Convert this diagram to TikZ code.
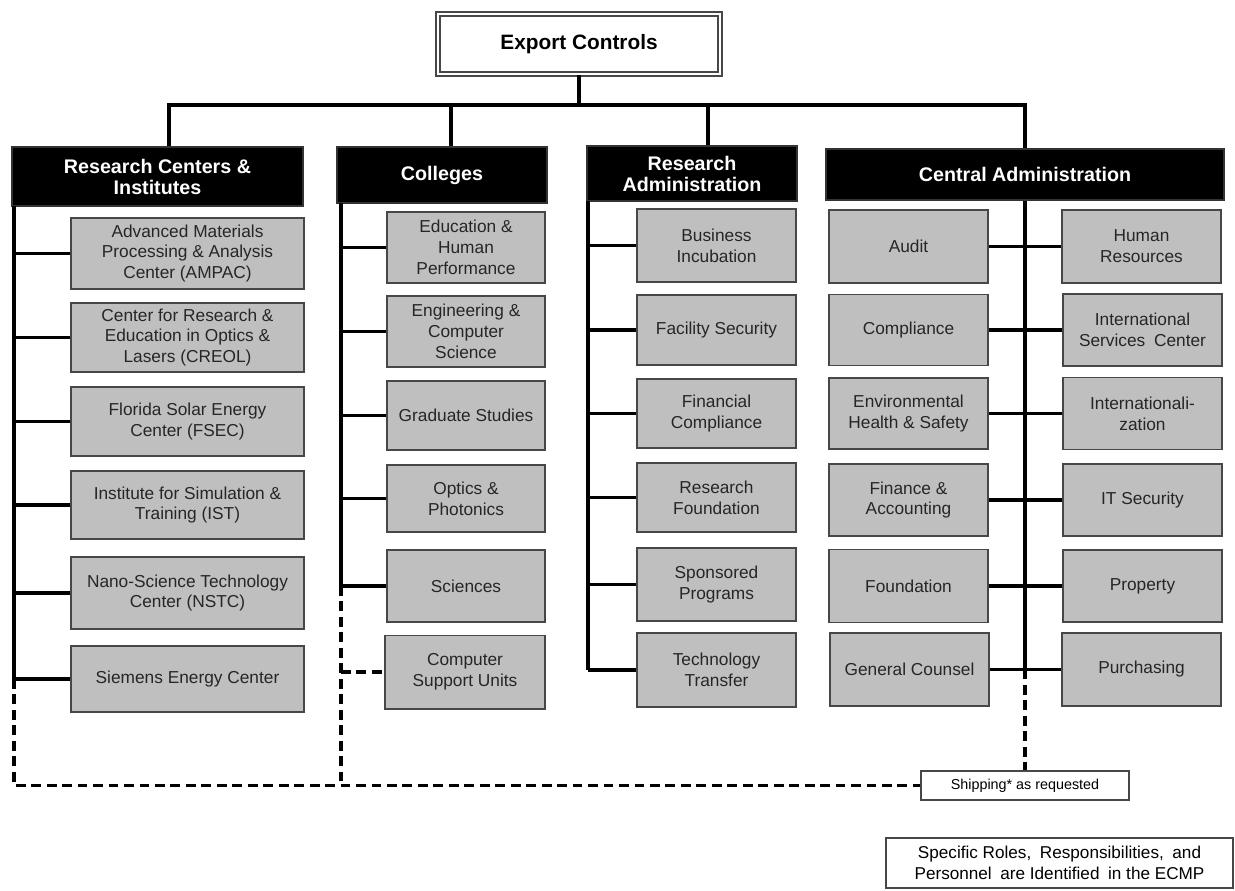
\documentclass[tikz,border=0pt]{standalone}
\usepackage{fontspec}
\setmainfont{Liberation Sans}
\usetikzlibrary{calc}
\definecolor{boxgray}{rgb}{0.75,0.75,0.75}
\definecolor{edgegray}{rgb}{0.28,0.28,0.28}
\tikzset{
  unitbox/.style 2 args={minimum width=#1*0.025cm, minimum height=#2*0.025cm, inner sep=0pt, align=center},
  graybox/.style={draw=edgegray, fill=boxgray, line width=1.4pt, text=black!85, font=\fontsize{12.3}{14.9}\selectfont},
  headbox/.style={draw=black!80, fill=black, text=white, line width=1pt, font=\bfseries\fontsize{14}{14.9}\selectfont},
  link/.style={line width=2.6pt, line join=miter},
  dlink/.style={line width=2.6pt, dash pattern=on 7pt off 4pt},
}

\begin{document}
\begin{tikzpicture}[x=0.025cm, y=-0.025cm]
    \useasboundingbox (0, 0) rectangle (1235, 890);

    \node[draw=edgegray, double, double distance=2pt, line width=1.2pt, unitbox={282}{60},
          font=\bfseries\fontsize{14.8}{16}\selectfont] (ec) at (579, 44) {Export Controls};

    \node[headbox, unitbox={291}{59}] (rci) at (157.5, 176.5) {Research Centers \&\\Institutes};
    \node[headbox, unitbox={210}{56}] (col) at (442, 175) {Colleges};
    \node[headbox, unitbox={210}{55}] (ra)  at (692, 173.5) {Research\\Administration};
    \node[headbox, unitbox={398}{51}] (ca)  at (1025, 174.5) {Central Administration};

    % research centers
    \node[graybox, unitbox={233}{71}] (ampac)   at (187.5, 253.5) {Advanced Materials\\Processing \& Analysis\\Center (AMPAC)};
    \node[graybox, unitbox={233}{69}] (creol)   at (187.5, 337.5) {Center for Research \&\\Education in Optics \&\\Lasers (CREOL)};
    \node[graybox, unitbox={233}{69}] (fsec)    at (187.5, 421.5) {Florida Solar Energy\\Center (FSEC)};
    \node[graybox, unitbox={233}{68}] (ist)     at (187.5, 505) {Institute for Simulation \&\\Training (IST)};
    \node[graybox, unitbox={233}{72}] (nstc)    at (187.5, 593) {Nano-Science Technology\\Center (NSTC)};
    \node[graybox, unitbox={233}{66}] (siemens) at (187.5, 679) {Siemens Energy Center};

    % colleges
    \node[graybox, unitbox={158}{71}] (edu)  at (466, 247.5) {Education \&\\Human\\Performance};
    \node[graybox, unitbox={158}{71}] (eng)  at (466, 331.5) {Engineering \&\\Computer\\Science};
    \node[graybox, unitbox={158}{69}] (grad) at (466, 415.5) {Graduate Studies};
    \node[graybox, unitbox={158}{67}] (opt)  at (466, 498.5) {Optics \&\\Photonics};
    \node[graybox, unitbox={158}{72}] (sci)  at (466, 586) {Sciences};
    \node[graybox, unitbox={160}{73}] (csu)  at (465, 672) {Computer\\Support Units};

    % research administration
    \node[graybox, unitbox={159}{73}] (busi)     at (716.5, 245.5) {Business\\Incubation};
    \node[graybox, unitbox={159}{70}] (facsec)   at (716.5, 330) {Facility Security};
    \node[graybox, unitbox={159}{69}] (fincomp)  at (716.5, 413.5) {Financial\\Compliance};
    \node[graybox, unitbox={159}{69}] (resfound) at (716.5, 497.5) {Research\\Foundation};
    \node[graybox, unitbox={159}{73}] (spons)    at (716.5, 584.5) {Sponsored\\Programs};
    \node[graybox, unitbox={159}{74}] (techtr)   at (716.5, 670) {Technology\\Transfer};

    % central administration
    \node[graybox, unitbox={159}{73}] (audit)  at (908.5, 246.5) {Audit};
    \node[graybox, unitbox={159}{71}] (compl)  at (908.5, 330) {Compliance};
    \node[graybox, unitbox={159}{71}] (ehs)    at (908.5, 413.5) {Environmental\\Health \& Safety};
    \node[graybox, unitbox={159}{72}] (finacc) at (908.5, 500) {Finance \&\\Accounting};
    \node[graybox, unitbox={159}{73}] (found)  at (908.5, 586) {Foundation};
    \node[graybox, unitbox={159}{73}] (gc)     at (909.5, 669.5) {General Counsel};

    \node[graybox, unitbox={159}{73}] (hr)    at (1141.5, 246.5) {Human\\Resources};
    \node[graybox, unitbox={159}{72}] (isc)   at (1142.5, 330) {International\\Services\enspace Center};
    \node[graybox, unitbox={159}{72}] (intl)  at (1142.5, 413.5) {Internationali-\\zation};
    \node[graybox, unitbox={159}{72}] (itsec) at (1142.5, 500) {IT Security};
    \node[graybox, unitbox={159}{72}] (prop)  at (1142.5, 586) {Property};
    \node[graybox, unitbox={159}{73}] (purch) at (1141.5, 669.5) {Purchasing};

    \node[draw=edgegray, line width=1pt, unitbox={208}{29}, font=\fontsize{10.2}{12}\selectfont] (ship) at (1025, 785.5) {Shipping* as requested};
    \node[draw=edgegray, line width=1pt, unitbox={347}{50}, font=\fontsize{12.2}{14.9}\selectfont] (note) at (1059.5, 863) {Specific Roles,\enspace Responsibilities,\enspace and\\Personnel\enspace are Identified\enspace in the ECMP};

    % top connectors
    \coordinate (bus) at (579, 105);
    \coordinate (d1) at (169, 105);
    \coordinate (d2) at (451, 105);
    \coordinate (d3) at (708, 105);
    \coordinate (d4) at (1025, 105);
    \draw[link] (ec.south) -- (bus);
    \draw[link] (d1 |- rci.north) -- (d1) -- (d4) -- (d4 |- ca.north);
    \draw[link] (d2) -- (d2 |- col.north);
    \draw[link] (d3) -- (d3 |- ra.north);

    % trunks
    \coordinate (t1) at (14, 206);
    \coordinate (t2) at (341, 203);
    \coordinate (t3) at (588, 201);
    \coordinate (t4) at (ca.south);

    \draw[link] (t1) -- (t1 |- siemens.west);
    \foreach \n in {ampac, creol, fsec, ist, nstc, siemens} {
      \draw[link] (t1 |- \n.west) -- (\n.west);
    }
    \draw[link] (t2) -- (t2 |- sci.west);
    \foreach \n in {edu, eng, grad, opt, sci} {
      \draw[link] (t2 |- \n.west) -- (\n.west);
    }
    \draw[link] (t3) -- (t3 |- techtr.west);
    \foreach \n in {busi, facsec, fincomp, resfound, spons, techtr} {
      \draw[link] (t3 |- \n.west) -- (\n.west);
    }
    \draw[link] (t4) -- (t4 |- gc.east);
    \foreach \l/\r in {audit/hr, compl/isc, ehs/intl, finacc/itsec, found/prop, gc/purch} {
      \draw[link] (\l.east) -- (\r.west);
    }

    % dashed links
    \draw[dlink] (t1 |- siemens.west) -- (t1 |- ship.west) -- (ship.west);
    \draw[dlink] (t2 |- sci.west) -- (t2 |- ship.west);
    \draw[dlink] (t2 |- csu.west) -- (csu.west);
    \draw[dlink] (t4 |- gc.east) -- (ship.north);
  \end{tikzpicture}
\end{document}
